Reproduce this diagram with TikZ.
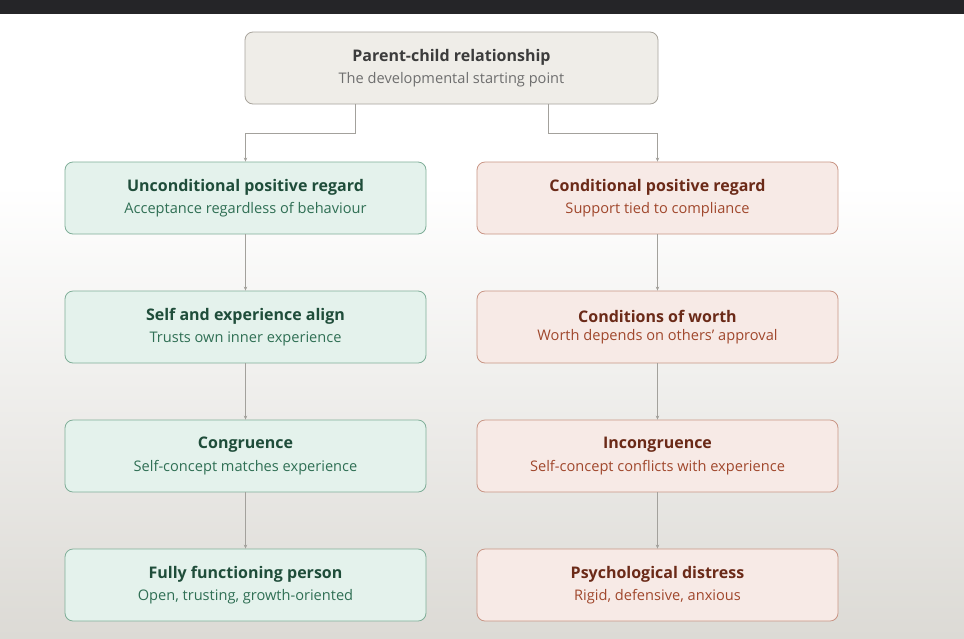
\documentclass[tikz,border=0pt]{standalone}
\usepackage{fontspec}
\setmainfont{Open Sans}
\usetikzlibrary{arrows.meta,positioning}
\definecolor{barcol}{HTML}{252528}
\definecolor{bgbottom}{HTML}{DCDAD5}
\definecolor{rootfill}{HTML}{EFEDE8}
\definecolor{rootline}{HTML}{A8A49C}
\definecolor{roottitle}{HTML}{3C3C3C}
\definecolor{rootsub}{HTML}{6E6E6E}
\definecolor{goodfill}{HTML}{E4F2EC}
\definecolor{goodline}{HTML}{7FAE98}
\definecolor{goodtitle}{HTML}{1F4D3A}
\definecolor{goodsub}{HTML}{2F6F54}
\definecolor{badfill}{HTML}{F7EAE6}
\definecolor{badline}{HTML}{C99585}
\definecolor{badtitle}{HTML}{6B2A18}
\definecolor{badsub}{HTML}{A0472C}
\definecolor{linkgray}{HTML}{A3A19C}
\newcommand{\cardtext}[4]{{\fontsize{16}{22}\selectfont\bfseries\color{#1}#3}\\[6.5pt]{\fontsize{14.6}{20}\selectfont\color{#2}#4}}

\begin{document}
\begin{tikzpicture}[x=1pt,y=-1pt,
  card/.style={rounded corners=8pt,minimum width=361pt,minimum height=72pt,align=center,line width=0.8pt,inner sep=0pt},
  rootcard/.style={card,minimum width=413pt,fill=rootfill,draw=rootline},
  goodcard/.style={card,fill=goodfill,draw=goodline},
  badcard/.style={card,fill=badfill,draw=badline},
  link/.style={draw=linkgray,line width=0.7pt,-{Stealth[length=4pt,width=3.5pt]}}]
  \useasboundingbox (0,0) rectangle (964,638);
  \fill[barcol] (0,0) rectangle (964,14);
  \fill[white] (0,14) rectangle (964,185);
  \shade[top color=white,bottom color=bgbottom] (0,185) rectangle (964,638);

  \node[rootcard] (root) at (451.5,68) {\cardtext{roottitle}{rootsub}{Parent-child relationship}{The developmental starting point}};

  \node[goodcard] (upr) at (245.5,198) {\cardtext{goodtitle}{goodsub}{Unconditional positive regard}{Acceptance regardless of behaviour}};
  \node[goodcard] (align) at (245.5,327) {\cardtext{goodtitle}{goodsub}{Self and experience align}{Trusts own inner experience}};
  \node[goodcard] (cong) at (245.5,456) {\cardtext{goodtitle}{goodsub}{Congruence}{Self-concept matches experience}};
  \node[goodcard] (full) at (245.5,585) {\cardtext{goodtitle}{goodsub}{Fully functioning person}{Open, trusting, growth-oriented}};

  \node[badcard] (cpr) at (657.5,198) {\cardtext{badtitle}{badsub}{Conditional positive regard}{Support tied to compliance}};
  \node[badcard] (worth) at (657.5,327) {\cardtext{badtitle}{badsub}{Conditions of worth}{Worth depends on others' approval}};
  \node[badcard] (incong) at (657.5,456) {\cardtext{badtitle}{badsub}{Incongruence}{Self-concept conflicts with experience}};
  \node[badcard] (distress) at (657.5,585) {\cardtext{badtitle}{badsub}{Psychological distress}{Rigid, defensive, anxious}};

  \draw[link] ([xshift=-96.5pt]root.south) -- ++(0,29) -| (upr.north);
  \draw[link] ([xshift=96.5pt]root.south) -- ++(0,29) -| (cpr.north);
  \draw[link] (upr) -- (align);
  \draw[link] (align) -- (cong);
  \draw[link] (cong) -- (full);
  \draw[link] (cpr) -- (worth);
  \draw[link] (worth) -- (incong);
  \draw[link] (incong) -- (distress);
\end{tikzpicture}
\end{document}
